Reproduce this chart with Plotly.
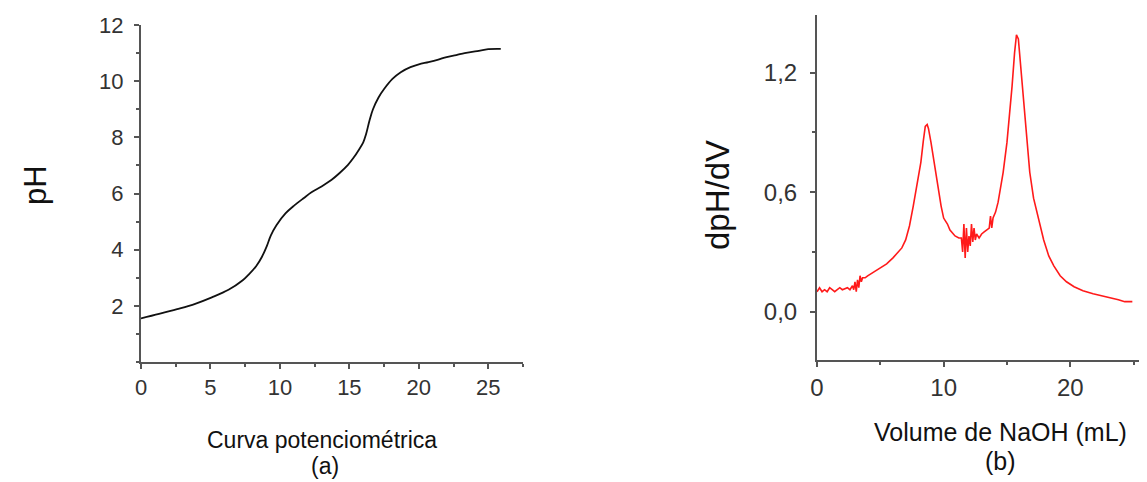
import plotly.graph_objects as go

# (a) potentiometric curve
vol_a = [0, 1.3, 2.6, 3.9, 5.1, 6.3, 7.3, 7.8, 8.3, 8.7, 9.05, 9.35, 9.75, 10.4, 11.0, 11.7, 12.3, 13.0, 13.7, 14.3, 14.9, 15.3, 15.7, 16.0, 16.2, 16.45, 16.7, 17.1, 17.5, 18.1, 18.7, 19.4, 20.0, 20.7, 21.4, 22.0, 22.7, 23.3, 24.2, 25.0, 25.9]
ph_a = [1.55, 1.71, 1.88, 2.07, 2.30, 2.57, 2.90, 3.14, 3.42, 3.74, 4.12, 4.51, 4.87, 5.29, 5.56, 5.83, 6.05, 6.25, 6.48, 6.73, 7.02, 7.27, 7.57, 7.82, 8.11, 8.60, 9.00, 9.42, 9.72, 10.08, 10.32, 10.50, 10.60, 10.68, 10.77, 10.86, 10.93, 11.00, 11.07, 11.14, 11.15]

# (b) first derivative
vol_b = [0, 0.2, 0.4, 0.6, 0.8, 1.0, 1.2, 1.4, 1.6, 1.8, 2.0, 2.2, 2.4, 2.6, 2.8, 2.9, 3.0, 3.1, 3.2, 3.3, 3.4, 3.5, 3.6, 3.8, 4.0, 4.5, 5.0, 5.5, 6.0, 6.3, 6.7, 7.0, 7.3, 7.6, 7.9, 8.2, 8.4, 8.55, 8.7, 8.8, 9.0, 9.2, 9.4, 9.6, 9.8, 10.0, 10.3, 10.5, 10.9, 11.2, 11.4, 11.5, 11.6, 11.7, 11.8, 11.9, 12.0, 12.1, 12.2, 12.3, 12.4, 12.5, 12.6, 12.8, 13.0, 13.2, 13.4, 13.6, 13.7, 13.8, 13.9, 14.1, 14.3, 14.5, 14.7, 15.0, 15.2, 15.4, 15.6, 15.75, 15.9, 16.1, 16.3, 16.5, 16.8, 17.1, 17.5, 17.9, 18.3, 18.7, 19.2, 19.7, 20.3, 21.0, 21.8, 22.5, 23.2, 23.8, 24.3, 24.9]
dph_b = [0.10, 0.12, 0.10, 0.11, 0.10, 0.12, 0.11, 0.10, 0.11, 0.12, 0.11, 0.115, 0.12, 0.11, 0.13, 0.11, 0.15, 0.10, 0.16, 0.12, 0.18, 0.15, 0.17, 0.17, 0.18, 0.20, 0.22, 0.24, 0.27, 0.29, 0.32, 0.36, 0.43, 0.53, 0.64, 0.75, 0.86, 0.93, 0.94, 0.92, 0.85, 0.77, 0.68, 0.60, 0.53, 0.47, 0.44, 0.41, 0.38, 0.37, 0.37, 0.30, 0.44, 0.27, 0.42, 0.30, 0.38, 0.33, 0.44, 0.35, 0.42, 0.36, 0.39, 0.37, 0.39, 0.40, 0.41, 0.42, 0.48, 0.42, 0.47, 0.50, 0.55, 0.62, 0.70, 0.85, 0.98, 1.13, 1.30, 1.39, 1.37, 1.22, 1.05, 0.90, 0.70, 0.57, 0.47, 0.36, 0.28, 0.23, 0.18, 0.15, 0.125, 0.105, 0.09, 0.08, 0.067, 0.06, 0.05, 0.05]

x_ticks_a = [0, 5, 10, 15, 20, 25]
y_ticks_a = [2, 4, 6, 8, 10, 12]
x_ticks_b = [0, 10, 20]
y_ticks_b = [0.0, 0.6, 1.2]

OFF = 8  # page body margin
W, H = 1147 - OFF, 482 - OFF
def px(x):
    return (x - OFF) / W
def py(y):
    return 1 - (y - OFF) / H

fig = go.Figure()
fig.add_trace(go.Scatter(x=vol_a, y=ph_a, mode="lines", line=dict(color="#111111", width=1.8),
                         xaxis="x", yaxis="y", showlegend=False, line_shape="spline"))
fig.add_trace(go.Scatter(x=vol_b, y=dph_b, mode="lines", line=dict(color="#ff1a1a", width=1.6),
                         xaxis="x2", yaxis="y2", showlegend=False))

def axis_common(fs):
    return dict(showgrid=False, zeroline=False, showline=True, linecolor="#555555", linewidth=2,
                ticks="outside", ticklen=5, tickwidth=1.5, tickcolor="#555555", automargin=False,
                tickfont=dict(family="Liberation Sans, Arial", size=fs, color="#333333"))

fig.update_layout(
    template="none",
    width=W, height=H, margin=dict(l=0, r=0, t=0, b=0, pad=0),
    paper_bgcolor="white", plot_bgcolor="white",
    separators=",.",
    xaxis=dict(domain=[px(141), px(523)], range=[0, 27.5], anchor="y", tickvals=x_ticks_a,
               minor=dict(ticks="outside", dtick=2.5, tick0=0, ticklen=3, tickcolor="#555555"), **axis_common(22)),
    yaxis=dict(domain=[py(362), py(25)], range=[0, 12], anchor="x", tickvals=y_ticks_a,
               ticklabelstandoff=6,
               minor=dict(ticks="outside", dtick=1, tick0=0, ticklen=3, tickcolor="#555555"), **axis_common(22)),
    xaxis2=dict(domain=[px(817), px(1145)], range=[0, 25.9], anchor="y2", tickvals=x_ticks_b,
                minor=dict(ticks="outside", dtick=5, tick0=0, ticklen=3, tickcolor="#555555"), **axis_common(24)),
    yaxis2=dict(domain=[py(360), py(15)], range=[-0.243, 1.49], anchor="x2", tickvals=y_ticks_b,
                tickformat=".1f", ticklabelstandoff=8,
                minor=dict(ticks="outside", dtick=0.3, tick0=0, ticklen=3, tickcolor="#555555"), **axis_common(24)),
)

font_lbl = dict(family="Liberation Sans, Arial", color="#111111")
ann = [
    dict(text="pH", x=px(35), y=py(185), textangle=-90, font=dict(size=31, **font_lbl)),
    dict(text="dpH/dV", x=px(718), y=py(195), textangle=-90, font=dict(size=33, **font_lbl)),
    dict(text="Curva potenciométrica", x=px(322), y=py(440), font=dict(size=23, **font_lbl)),
    dict(text="(a)", x=px(325), y=py(466), font=dict(size=23, **font_lbl)),
    dict(text="Volume de NaOH (mL)", x=px(1000), y=py(432), font=dict(size=25, **font_lbl)),
    dict(text="(b)", x=px(1000), y=py(461), font=dict(size=25, **font_lbl)),
]
for a in ann:
    fig.add_annotation(xref="paper", yref="paper", showarrow=False, xanchor="center", yanchor="middle", **a)

fig.write_html("out.html")
